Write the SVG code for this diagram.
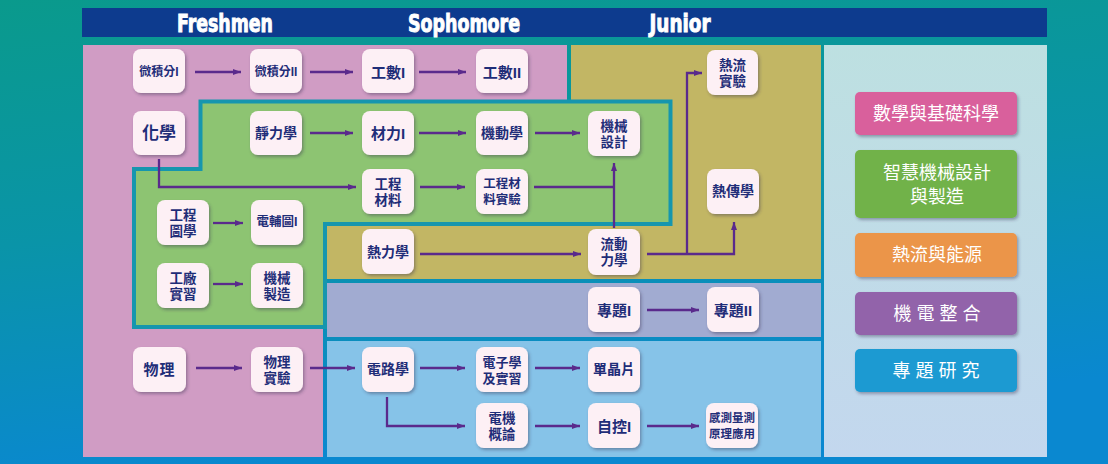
<svg xmlns="http://www.w3.org/2000/svg" width="1108" height="464" viewBox="0 0 1108 464">
<defs>
<linearGradient id="bg" x1="0" y1="0" x2="0.25" y2="1">
<stop offset="0" stop-color="#0a9a8c"/>
<stop offset="0.5" stop-color="#0a94a8"/>
<stop offset="1" stop-color="#0a88d0"/>
</linearGradient>
<linearGradient id="lg" x1="0" y1="0" x2="0" y2="1">
<stop offset="0" stop-color="#bde0e1"/>
<stop offset="1" stop-color="#c3d7ee"/>
</linearGradient>
<filter id="sh" x="-20%" y="-20%" width="150%" height="150%">
<feDropShadow dx="1.5" dy="2" stdDeviation="1.4" flood-color="#3a3050" flood-opacity="0.4"/>
</filter>
<marker id="ah" markerUnits="userSpaceOnUse" markerWidth="8" markerHeight="6" viewBox="0 0 8 6" refX="8" refY="3" orient="auto">
<path d="M0,0 L8,3 L0,6 z" fill="#5a2a8c"/>
</marker>
<style>
.node rect{fill:#fdf0f5;filter:url(#sh)}
.node text{fill:#1f2d78;font-family:"Liberation Sans","Noto Sans CJK TC","Noto Sans CJK SC",sans-serif;font-weight:bold;font-size:14px;text-anchor:middle;dominant-baseline:central}
.node text.t2{font-size:13.5px}
.leg rect{filter:url(#sh)}
.leg text{fill:#ffffff;font-family:"Liberation Sans","Noto Sans CJK TC","Noto Sans CJK SC",sans-serif;font-size:18px;text-anchor:middle;dominant-baseline:central}
.hdr{fill:#ffffff;stroke:#ffffff;stroke-width:0.9;font-family:"Liberation Sans Narrow","DejaVu Sans Condensed","Liberation Sans",sans-serif;font-weight:bold;font-size:24px;text-anchor:middle}
#connectors path{fill:none;stroke:#5a2a8c;stroke-width:2.3}
.arr{marker-end:url(#ah)}
</style>
</defs>
<rect width="1108" height="464" fill="url(#bg)"/>
<g id="header">
<rect x="82" y="8" width="965" height="29" fill="#0d3b8e"/>
<text class="hdr" x="225" y="32" textLength="96" lengthAdjust="spacingAndGlyphs">Freshmen</text>
<text class="hdr" x="464" y="32" textLength="112" lengthAdjust="spacingAndGlyphs">Sophomore</text>
<text class="hdr" x="680" y="32" textLength="61" lengthAdjust="spacingAndGlyphs">Junior</text>
</g>
<g id="regions">
<polygon points="83,45 567,45 567,222 323,222 323,457 83,457" fill="#d09cc4"/>
<polygon points="571,45 821,45 821,279 327,279 327,222 571,222" fill="#c2b664"/>
<polygon points="200.5,101.5 670.5,101.5 670.5,224 325,224 325,327 134,327 134,169 200.5,169" fill="#8dc472" stroke="#1696ae" stroke-width="4"/>
<rect x="327" y="283" width="494" height="54" fill="#a1abd1"/>
<rect x="327" y="341" width="494" height="116" fill="#86c3e8"/>
<rect x="824" y="45" width="223" height="412" fill="url(#lg)"/>
</g>
<g id="connectors">
<path class="arr" d="M195,72 H241"/>
<path class="arr" d="M310,72 H353"/>
<path class="arr" d="M419,72 H466"/>
<path class="arr" d="M310,133 H353"/>
<path class="arr" d="M419,133 H466"/>
<path class="arr" d="M535,133 H580"/>
<path class="arr" d="M159,159 V187 H356"/>
<path class="arr" d="M420,187 H465"/>
<path d="M534,187 H614"/>
<path class="arr" d="M614,228 V163"/>
<path class="arr" d="M213,223 H243"/>
<path class="arr" d="M213,284 H243"/>
<path class="arr" d="M420,254 H581"/>
<path class="arr" d="M647,254 H734 V222"/>
<path class="arr" d="M687,254 V73 H702"/>
<path class="arr" d="M647,310 H699"/>
<path class="arr" d="M196,368 H242"/>
<path class="arr" d="M310,368 H355"/>
<path class="arr" d="M420,368 H465"/>
<path class="arr" d="M387,397 V426 H465"/>
<path class="arr" d="M535,368 H580"/>
<path class="arr" d="M535,426 H580"/>
<path class="arr" d="M647,426 H699"/>
</g>
<g id="n-calc1" class="node"><rect x="133" y="49" width="52" height="44" rx="8"/><text x="159" y="72" style="font-size:12px">微積分I</text></g>
<g id="n-calc2" class="node"><rect x="250" y="49" width="52" height="44" rx="8"/><text x="276" y="72" style="font-size:12px">微積分II</text></g>
<g id="n-em1" class="node"><rect x="362" y="49" width="52" height="44" rx="8"/><text x="388" y="72" style="font-size:15px">工數I</text></g>
<g id="n-em2" class="node"><rect x="476" y="49" width="52" height="44" rx="8"/><text x="502" y="72" style="font-size:15px">工數II</text></g>
<g id="n-tflab" class="node"><rect x="707" y="50" width="51" height="45" rx="8"/><text class="t2"><tspan x="732.5" y="64.5">熱流</tspan><tspan x="732.5" y="80.5">實驗</tspan></text></g>
<g id="n-chem" class="node"><rect x="133" y="111" width="52" height="44" rx="8"/><text x="159" y="133" style="font-size:17px">化學</text></g>
<g id="n-stat" class="node"><rect x="250" y="111" width="52" height="44" rx="8"/><text x="276" y="133">靜力學</text></g>
<g id="n-mat1" class="node"><rect x="362" y="111" width="52" height="44" rx="8"/><text x="388" y="133" style="font-size:15px">材力I</text></g>
<g id="n-dyn" class="node"><rect x="476" y="111" width="52" height="44" rx="8"/><text x="502" y="133">機動學</text></g>
<g id="n-md" class="node"><rect x="588" y="111" width="52" height="45" rx="8"/><text class="t2"><tspan x="614" y="125.5">機械</tspan><tspan x="614" y="141.5">設計</tspan></text></g>
<g id="n-emat" class="node"><rect x="362" y="169" width="52" height="45" rx="8"/><text class="t2"><tspan x="388" y="183.5">工程</tspan><tspan x="388" y="199.5">材料</tspan></text></g>
<g id="n-emlab" class="node"><rect x="476" y="169" width="52" height="45" rx="8"/><text class="t2" style="font-size:12.5px"><tspan x="502" y="183.5">工程材</tspan><tspan x="502" y="199.5">料實驗</tspan></text></g>
<g id="n-ht" class="node"><rect x="707" y="169" width="52" height="45" rx="8"/><text x="733" y="191">熱傳學</text></g>
<g id="n-draw" class="node"><rect x="157" y="200" width="52" height="45" rx="8"/><text class="t2"><tspan x="183" y="214.5">工程</tspan><tspan x="183" y="230.5">圖學</tspan></text></g>
<g id="n-cad" class="node"><rect x="251" y="200" width="52" height="45" rx="8"/><text x="277" y="222" style="font-size:12.5px">電輔圖I</text></g>
<g id="n-thermo" class="node"><rect x="362" y="229" width="52" height="45" rx="8"/><text x="388" y="252">熱力學</text></g>
<g id="n-fluid" class="node"><rect x="588" y="229" width="52" height="46" rx="8"/><text class="t2"><tspan x="614" y="244">流動</tspan><tspan x="614" y="260">力學</tspan></text></g>
<g id="n-shop" class="node"><rect x="157" y="263" width="52" height="45" rx="8"/><text class="t2"><tspan x="183" y="277.5">工廠</tspan><tspan x="183" y="293.5">實習</tspan></text></g>
<g id="n-mfg" class="node"><rect x="251" y="263" width="52" height="45" rx="8"/><text class="t2"><tspan x="277" y="277.5">機械</tspan><tspan x="277" y="293.5">製造</tspan></text></g>
<g id="n-proj1" class="node"><rect x="588" y="287" width="52" height="45" rx="8"/><text x="614" y="310" style="font-size:15px">專題I</text></g>
<g id="n-proj2" class="node"><rect x="707" y="287" width="52" height="45" rx="8"/><text x="733" y="310" style="font-size:15px">專題II</text></g>
<g id="n-phys" class="node"><rect x="133" y="347" width="53" height="45" rx="8"/><text x="159.5" y="369" style="font-size:15px;letter-spacing:1px">物理</text></g>
<g id="n-physlab" class="node"><rect x="251" y="347" width="52" height="45" rx="8"/><text class="t2"><tspan x="277" y="361.5">物理</tspan><tspan x="277" y="377.5">實驗</tspan></text></g>
<g id="n-circ" class="node"><rect x="362" y="347" width="52" height="45" rx="8"/><text x="388" y="369">電路學</text></g>
<g id="n-elec" class="node"><rect x="476" y="347" width="52" height="45" rx="8"/><text class="t2" style="font-size:13px"><tspan x="502" y="361.5">電子學</tspan><tspan x="502" y="377.5">及實習</tspan></text></g>
<g id="n-mcu" class="node"><rect x="588" y="347" width="52" height="45" rx="8"/><text x="614" y="369">單晶片</text></g>
<g id="n-motor" class="node"><rect x="476" y="403" width="52" height="45" rx="8"/><text class="t2"><tspan x="502" y="417.5">電機</tspan><tspan x="502" y="433.5">概論</tspan></text></g>
<g id="n-ctrl" class="node"><rect x="588" y="403" width="52" height="45" rx="8"/><text x="614" y="426" style="font-size:15px">自控I</text></g>
<g id="n-sensor" class="node"><rect x="706" y="403" width="52" height="45" rx="8"/><text class="t2" style="font-size:11.5px"><tspan x="732" y="417.5">感測量測</tspan><tspan x="732" y="433.5">原理應用</tspan></text></g>
<g id="legend-math" class="leg"><rect x="855" y="92" width="162" height="43" rx="5" fill="#d9609c"/><text x="936" y="113.5">數學與基礎科學</text></g>
<g id="legend-design" class="leg"><rect x="855" y="150" width="162" height="68" rx="5" fill="#71b24a"/><text><tspan x="937" y="172.5">智慧機械設計</tspan><tspan x="937" y="196.5">與製造</tspan></text></g>
<g id="legend-thermal" class="leg"><rect x="855" y="233" width="162" height="44" rx="5" fill="#eb9548"/><text x="937" y="255">熱流與能源</text></g>
<g id="legend-mech" class="leg"><rect x="855" y="292" width="162" height="43" rx="5" fill="#9263aa"/><text x="937" y="313.5">機 電 整 合</text></g>
<g id="legend-proj" class="leg"><rect x="855" y="349" width="162" height="43" rx="5" fill="#1a9ad2"/><text x="936" y="370.5">專 題 研 究</text></g>
</svg>
